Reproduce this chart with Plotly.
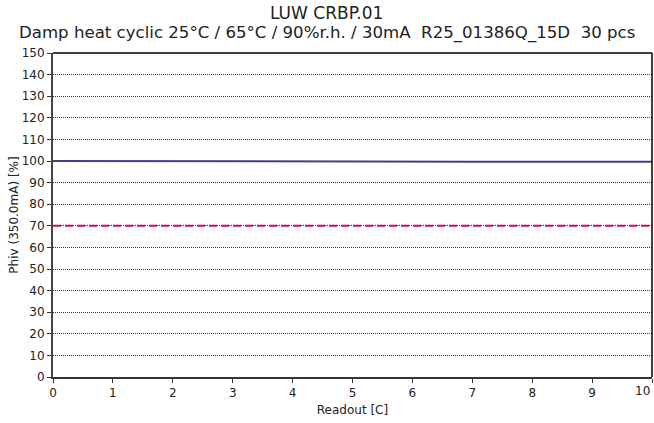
import plotly.graph_objects as go

readout = [0, 1, 2, 3, 4, 5, 6, 7, 8, 9, 10]
phiv = [100, 100, 100, 99.8, 99.7, 99.7, 99.7, 99.7, 99.6, 99.6, 99.6]
limit = [70] * 11
y_ticks = list(range(0, 151, 10))
x_ticks = list(range(0, 11))
x_tick_labels = [str(v) for v in x_ticks[:-1]] + [""]

title_1 = "LUW CRBP.01"
title_2 = "Damp heat cyclic 25°C / 65°C / 90%r.h. / 30mA  R25_01386Q_15D  30 pcs"

fig = go.Figure()
fig.add_trace(go.Scatter(x=readout, y=limit, mode="lines",
                         line=dict(color="#D0086E", width=2, dash="8px,4px"), showlegend=False))
fig.add_trace(go.Scatter(x=readout, y=phiv, mode="lines",
                         line=dict(color="#4F3A8A", width=2), showlegend=False))

fig.update_layout(
    width=654, height=423,
    margin=dict(l=53, r=2, t=53, b=46),
    paper_bgcolor="white", plot_bgcolor="white",
    font=dict(family="DejaVu Sans", size=12, color="#222"),
    xaxis=dict(range=[0, 10], tickvals=x_ticks, ticktext=x_tick_labels,
               showgrid=False, zeroline=False,
               showline=True, linecolor="#333", linewidth=2, ticks="outside",
               ticklen=4, tickcolor="#333",
               title=dict(text="Readout [C]", standoff=6, font=dict(size=12))),
    yaxis=dict(range=[0, 150], tickvals=y_ticks, showgrid=True, gridcolor="#333",
               griddash="1px,1px", gridwidth=1, zeroline=False,
               showline=True, linecolor="#444", linewidth=2, ticks="outside",
               ticklen=4, tickcolor="#333",
               title=dict(text="Phiv (350.0mA) [%]", standoff=0, font=dict(size=12))),
)
fig.add_annotation(text=title_1, xref="paper", yref="paper", x=0.4574, y=1.1235,
                   xanchor="center", yanchor="middle", showarrow=False,
                   font=dict(size=17, color="#222"))
fig.add_annotation(text=title_2, xref="paper", yref="paper", x=0.4574, y=1.0617,
                   xanchor="center", yanchor="middle", showarrow=False,
                   font=dict(size=16.6, color="#222"))
fig.add_annotation(text=str(x_ticks[-1]), x=x_ticks[-1], y=0, xref="x", yref="y",
                   xanchor="right", yanchor="top", yshift=-5, showarrow=False,
                   font=dict(size=12, color="#222"))
fig.add_shape(type="line", xref="paper", yref="paper", x0=0, x1=1, y0=1, y1=1,
              line=dict(color="black", width=1.5))
fig.add_shape(type="line", xref="paper", yref="paper", x0=1, x1=1, y0=0, y1=1,
              line=dict(color="black", width=1.5))

fig.write_html("out.html", config={"displayModeBar": False},
               post_script="document.body.style.margin='0';document.body.style.overflow='hidden';")
